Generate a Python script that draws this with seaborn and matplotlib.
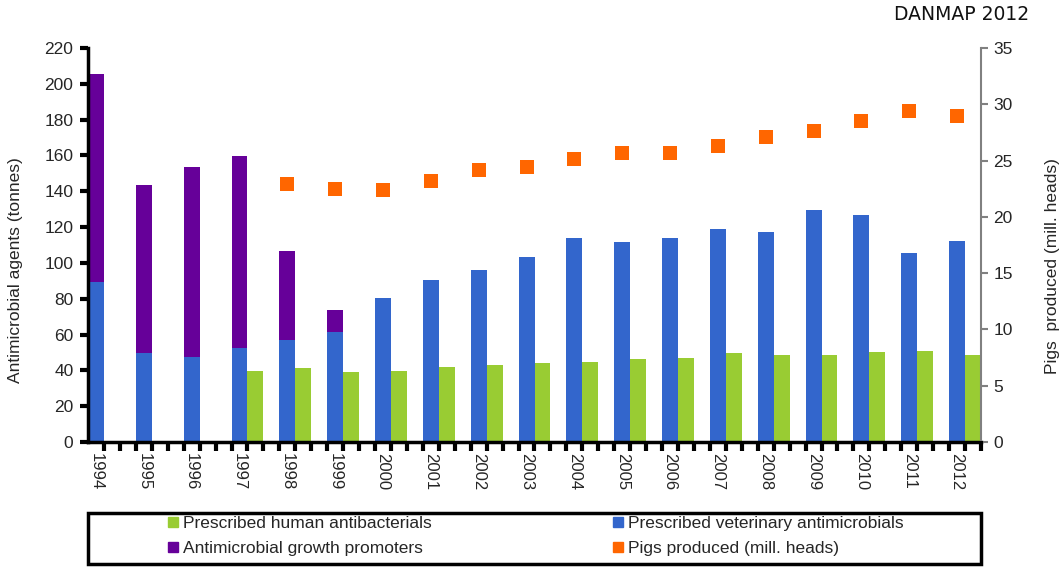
import numpy as np
import pandas as pd
import matplotlib
matplotlib.use("Agg")
import matplotlib.pyplot as plt
import seaborn as sns
from matplotlib.lines import Line2D
from matplotlib.patches import Rectangle

# ---- data ----
years = [1994, 1995, 1996, 1997, 1998, 1999, 2000, 2001, 2002, 2003,
         2004, 2005, 2006, 2007, 2008, 2009, 2010, 2011, 2012]
vet_antimicrobials = [89.3, 49.5, 47.6, 52.7, 56.9, 61.6, 80.6, 90.6, 96.0, 103.5,
                      113.7, 111.7, 113.9, 119.1, 117.3, 129.5, 126.7, 105.5, 112.0]
growth_promoters = [116.3, 94.0, 106.1, 107.2, 49.5, 12.3, 0, 0, 0, 0,
                    0, 0, 0, 0, 0, 0, 0, 0, 0]
human_antibacterials = [np.nan, np.nan, np.nan, 39.8, 41.5, 39.3, 39.8, 42.0, 43.2, 43.9,
                        44.9, 46.5, 47.1, 49.9, 48.8, 48.8, 50.4, 51.0, 48.8]
pigs_produced = [np.nan, np.nan, np.nan, np.nan, 22.9, 22.5, 22.4, 23.2, 24.2, 24.4,
                 25.1, 25.7, 25.7, 26.3, 27.1, 27.6, 28.5, 29.4, 29.0]

labels = ["Prescribed human antibacterials", "Antimicrobial growth promoters",
          "Prescribed veterinary antimicrobials", "Pigs produced (mill. heads)"]

C_HUMAN = "#99CC33"
C_VET = "#3366CC"
C_AGP = "#660099"
C_PIG = "#FF6600"

sns.set_theme(style="ticks")
plt.rcParams["font.family"] = ["Liberation Sans", "DejaVu Sans"]

W = 1 / 3
pos = np.arange(len(years))
df = pd.DataFrame({
    "pos": pos,
    "vet": vet_antimicrobials,
    "agp": growth_promoters,
    "human": human_antibacterials,
    "pigs": pigs_produced,
})
df["stack_top"] = df["vet"] + df["agp"]
df["pos_h"] = df["pos"] + W

fig = plt.figure(figsize=(10.62, 5.74), dpi=100)
ax = fig.add_axes([88 / 1062, 1 - 442 / 574, (981 - 88) / 1062, (442 - 48) / 574])

common = dict(native_scale=True, width=W, saturation=1, errorbar=None, linewidth=0, ax=ax)
sns.barplot(data=df[df["agp"] > 0], x="pos", y="stack_top", color=C_AGP, **common)
sns.barplot(data=df, x="pos", y="vet", color=C_VET, **common)
sns.barplot(data=df.dropna(subset=["human"]), x="pos_h", y="human", color=C_HUMAN, **common)

xmin, xmax = -W / 2, len(years) - 1 + 1.5 * W
ax.set_xlim(xmin, xmax)
ax.set_ylim(0, 220)
left_ticks = np.arange(0, 221, 20)
ax.set_yticks(left_ticks)

# secondary axis for pigs
ax2 = ax.twinx()
sns.scatterplot(data=df.dropna(subset=["pigs"]), x="pos", y="pigs", color=C_PIG,
                marker="s", s=95, linewidth=0, ax=ax2, legend=False)
ax2.set_xlim(xmin, xmax)
ax2.set_ylim(0, 35)
ax2.set_yticks(np.arange(0, 36, 5))

ax.set_xticks(pos)
ax.set_xticklabels([str(y) for y in years], rotation=-90, fontsize=12)
ax.tick_params(axis="x", which="both", length=0, pad=8)
ax.tick_params(axis="y", length=0, labelsize=12.5, pad=10.5)

# tick marks: slot edges along the category axis, and the left value axis
slot_edges = xmin + W * np.arange(1, 3 * len(years))
fig.add_artist(Line2D(slot_edges, np.full(len(slot_edges), -0.011),
                      transform=ax.get_xaxis_transform(), linestyle="none", marker="|",
                      markersize=7.5, markeredgewidth=3, color="black", clip_on=False, zorder=10))
fig.add_artist(Line2D(np.full(len(left_ticks), -0.0045), left_ticks,
                      transform=ax.get_yaxis_transform(), linestyle="none", marker="_",
                      markersize=6, markeredgewidth=3, color="black", clip_on=False, zorder=10))

ax.set_xlabel("")
ax.set_ylabel("Antimicrobial agents (tonnes)", fontsize=12.5)
ax.yaxis.set_label_coords(-0.073, 0.436)
for s in ["left", "bottom"]:
    ax.spines[s].set_linewidth(2.5)
    ax.spines[s].set_color("black")
ax.spines["top"].set_visible(False)
ax.spines["right"].set_visible(False)

ax2.tick_params(axis="y", length=5, width=1.5, color="#808080", labelsize=12.5, pad=4)
ax2.set_ylabel("Pigs  produced (mill. heads)", fontsize=12.5, rotation=90)
ax2.yaxis.set_label_coords(1.072, 0.447)
ax2.spines["right"].set_color("#808080")
ax2.spines["right"].set_linewidth(1.5)
for s in ["left", "top", "bottom"]:
    ax2.spines[s].set_visible(False)
ax2.set_xlabel("")

# legend
def h(c):
    return Line2D([], [], marker="s", markersize=7.5, linestyle="none", color=c)

leg_kw = dict(frameon=False, fontsize=12.5, handlelength=0.7, handletextpad=0.2,
              labelspacing=0.58, borderpad=0, borderaxespad=0, loc="upper left")
fig.legend([h(C_HUMAN), h(C_AGP)], labels[:2],
           bbox_to_anchor=(167 / 1062, 1 - 516 / 574), **leg_kw)
fig.legend([h(C_VET), h(C_PIG)], labels[2:],
           bbox_to_anchor=(612 / 1062, 1 - 516 / 574), **leg_kw)
fig.add_artist(Rectangle((88 / 1062, 1 - 564 / 574), (981 - 88) / 1062, 51 / 574,
                         transform=fig.transFigure, fill=False, lw=2.5, ec="black"))

fig.text(1029 / 1062, 1 - 15 / 574, "DANMAP 2012", ha="right", va="center",
         fontsize=13.5, family="DejaVu Sans", color="#111111")

fig.savefig("out.png", dpi=100)
